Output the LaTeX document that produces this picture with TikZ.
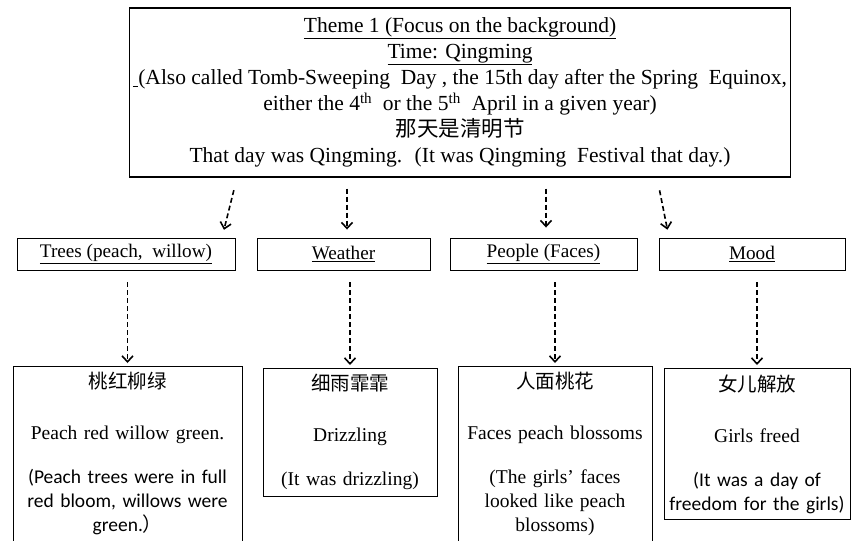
\documentclass[tikz,border=0pt]{standalone}
\usepackage{fontspec}
\setmainfont{Liberation Serif}
\newfontfamily\cjk{Noto Sans CJK SC}
\newfontfamily\calib{Carlito}
\usetikzlibrary{arrows.meta,positioning}

\begin{document}
\begin{tikzpicture}[
    x=1pt, y=-1pt,
    midbox/.style={draw, line width=0.9pt, minimum height=32pt, inner sep=0pt, font=\fontsize{19.2}{23}\selectfont},
    textbox/.style={draw, line width=0.9pt, anchor=north, align=center, inner xsep=2pt, inner ysep=6pt, font=\fontsize{19.5}{24}\selectfont},
    arr/.style={-{Straight Barb[length=6pt,width=11pt]}, line width=1.6pt, dash pattern=on 5pt off 3pt}
]
\useasboundingbox (0,0) rectangle (858,540);
\clip (0,0) rectangle (858,540);

% theme box
\node[draw, line width=1.1pt, minimum width=660pt, minimum height=169pt, align=center, font=\fontsize{21.5}{26}\selectfont] (theme) at (460,92.5)
    {\underline{Theme 1 (Focus on the background)}\\
     \underline{Time: Qingming}\\
     \underline{\ }(Also called Tomb-Sweeping~ Day , the 15th day after the Spring~ Equinox,\\
     either the 4\textsuperscript{th}~ or the 5\textsuperscript{th}~ April in a given year)\\
     {\cjk 那天是清明节}\\
     That day was Qingming.~ (It was Qingming~ Festival that day.)};

% aspects
\node[midbox, minimum width=218pt] (trees) at (126,254) {\underline{Trees (peach,~ willow)}};
\node[midbox, minimum width=173pt] (weather) at (343.5,254) {\underline{Weather}};
\node[midbox, minimum width=187pt] (people) at (543.5,254) {\underline{People (Faces)}};
\node[midbox, minimum width=186pt] (mood) at (752,254) {\underline{Mood}};

% phrases
\node[textbox, text width=225pt] (peach) at (127.5,366)
    {{\cjk 桃红柳绿}\\[27pt]
     Peach red willow green.\\[20pt]
     {\calib (Peach trees were in full\\ red bloom, willows were\\ green.{\cjk ）}}\\[10pt]\mbox{}};
\node[textbox, text width=170pt] (rain) at (350,368)
    {{\cjk 细雨霏霏}\\[27pt]
     Drizzling\\[20pt]
     (It was drizzling)};
\node[textbox, text width=190pt] (faces) at (555,366)
    {{\cjk 人面桃花}\\[27pt]
     Faces peach blossoms\\[20pt]
     (The girls’ faces\\ looked like peach\\ blossoms)\\[10pt]\mbox{}};
\node[textbox, text width=182pt] (girls) at (757,368)
    {{\cjk 女儿解放}\\[27pt]
     Girls freed\\[20pt]
     {\calib (It was a day of\\ freedom for the girls)}};

% arrows
\draw[arr, shorten <=13pt, shorten >=8pt] ([xshift=-223pt]theme.south) -- ([xshift=96pt]trees.north);
\draw[arr, shorten <=11pt, shorten >=8pt] ([xshift=-113pt]theme.south) -- ([xshift=3.5pt]weather.north);
\draw[arr, shorten <=11pt, shorten >=10pt] ([xshift=86pt]theme.south) -- ([xshift=2.5pt]people.north);
\draw[arr, shorten <=13pt, shorten >=8pt] ([xshift=197pt]theme.south) -- ([xshift=-83pt]mood.north);

\draw[arr, shorten <=12pt, shorten >=3pt] (peach.north |- trees.south) -- (peach.north);
\draw[arr, shorten <=12pt, shorten >=3pt] (rain.north |- weather.south) -- (rain.north);
\draw[arr, shorten <=12pt, shorten >=3pt] (faces.north |- people.south) -- (faces.north);
\draw[arr, shorten <=12pt, shorten >=3pt] (girls.north |- mood.south) -- (girls.north);
\end{tikzpicture}
\end{document}
